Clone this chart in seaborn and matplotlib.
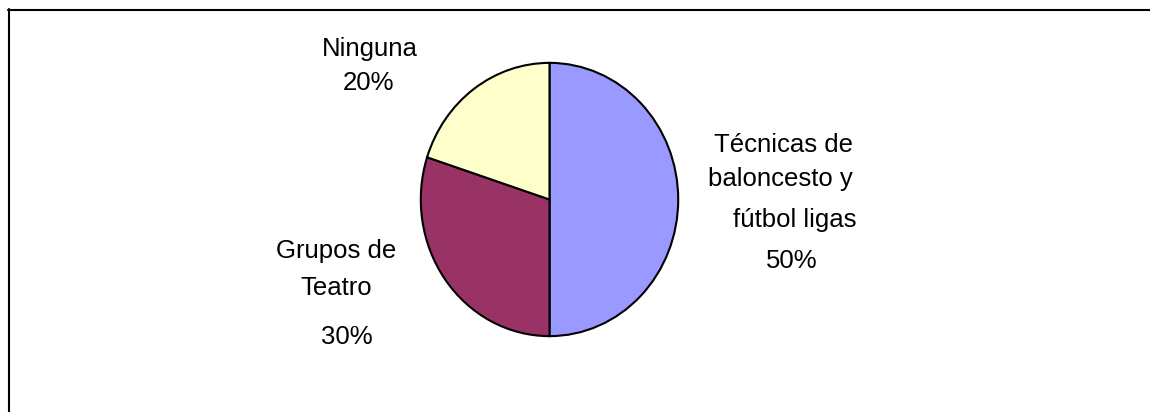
import matplotlib
matplotlib.use('Agg')
import matplotlib.pyplot as plt
import seaborn as sns
from matplotlib.lines import Line2D

sns.set_style('white')
plt.rcParams['font.family'] = ['Liberation Sans', 'DejaVu Sans']

# datos
actividades = ['Técnicas de baloncesto y fútbol ligas', 'Grupos de Teatro', 'Ninguna']
porcentajes = [50, 30, 20]
colores = ['#9999FF', '#993366', '#FFFFCC']
# lineas de cada etiqueta (como en la hoja original)
lineas_tecnicas = ['Técnicas de', 'baloncesto y', 'fútbol ligas']
lineas_teatro = ['Grupos de', 'Teatro']
lineas_ninguna = ['Ninguna']

W, H = 1150, 412
fig = plt.figure(figsize=(W / 100, H / 100), dpi=100)

# marco del grafico
fig.add_artist(Line2D([8 / W, 1.01], [1 - 9.5 / H, 1 - 9.5 / H], color='black', lw=1.5))
fig.add_artist(Line2D([8.5 / W, 8.5 / W], [1 - 9 / H, -0.01], color='black', lw=1.5))

# pastel (un poco mas alto que ancho)
cx, cy, rx, ry = 549.5, 199.5, 130, 138
ax = fig.add_axes([(cx - rx) / W, 1 - (cy + ry) / H, 2 * rx / W, 2 * ry / H])
ax.pie(porcentajes, colors=colores, startangle=90, counterclock=False, radius=1,
       wedgeprops=dict(edgecolor='black', linewidth=1.5))
ax.set_aspect('auto')
ax.set_xlim(-1.01, 1.01)
ax.set_ylim(-1.01, 1.01)
ax.axis('off')


def texto(x, y, s):
    fig.text(x / W, 1 - y / H, s, ha='center', va='baseline', fontsize=18.5, color='black')


# etiquetas
for s, x, y in zip(lineas_tecnicas + [f'{porcentajes[0]}%'], [784, 780, 795, 792], [152, 186, 227, 268]):
    texto(x, y, s)
for s, x, y in zip(lineas_teatro + [f'{porcentajes[1]}%'], [336, 336, 347], [258, 295, 344]):
    texto(x, y, s)
for s, x, y in zip(lineas_ninguna + [f'{porcentajes[2]}%'], [370, 369], [56, 90]):
    texto(x, y, s)

fig.savefig('out.png', dpi=100)
